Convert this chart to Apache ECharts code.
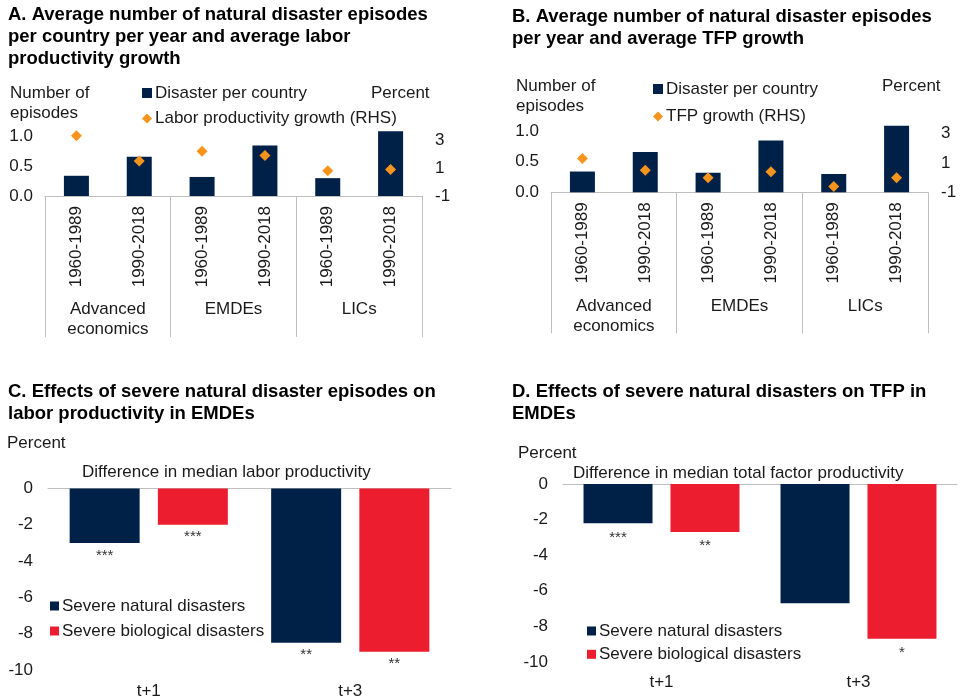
<!DOCTYPE html>
<html>
<head>
<meta charset="utf-8">
<script src="https://cdn.jsdelivr.net/npm/echarts@6/dist/echarts.min.js"></script>
<style>
  html, body { margin: 0; padding: 0; background: #fff; }
  #main { width: 960px; height: 700px; }
</style>
</head>
<body>
<div id="main"></div>
<script>
// panels A and B
var groups = ['Advanced\neconomics', 'EMDEs', 'LICs'];
var periods = ['1960-1989', '1990-2018', '1960-1989', '1990-2018', '1960-1989', '1990-2018'];
var disastersPerCountry = [0.34, 0.66, 0.32, 0.85, 0.30, 1.09];
var laborGrowth = [3.3, 1.5, 2.2, 1.9, 0.8, 0.9];
var tfpGrowth = [1.3, 0.5, 0.0, 0.4, -0.6, 0.0];

// panels C and D
var horizons = ['t+1', 't+3'];
var laborNatural = [-3.0, -8.5];
var laborBio = [-2.0, -9.0];
var laborNaturalStars = ['***', '**'];
var laborBioStars = ['***', '**'];
var tfpNatural = [-2.2, -6.7];
var tfpBio = [-2.7, -8.7];
var tfpNaturalStars = ['***', ''];
var tfpBioStars = ['**', '*'];

var NAVY = '#002147';
var RED = '#EB1D2E';
var ORANGE = '#F7941D';
var GRAY = '#bfbfbf';
var TXT = '#1a1a1a';
var FONT = "'Liberation Sans', Arial, sans-serif";
var FS = 17;

var chart = echarts.init(document.getElementById('main'));

function periodAxis(grid) {
  return {
    type: 'category', gridIndex: grid, position: 'bottom', data: periods,
    axisLine: { show: true, onZero: false, lineStyle: { color: GRAY } },
    axisTick: { show: false },
    axisLabel: { rotate: 90, interval: 0, margin: 10, fontSize: FS, color: TXT }
  };
}
function groupAxis(grid, len, margin) {
  return {
    type: 'category', gridIndex: grid, position: 'bottom', data: groups,
    axisLine: { show: false, onZero: false },
    axisTick: { show: true, length: len, lineStyle: { color: GRAY } },
    axisLabel: { interval: 0, margin: margin, fontSize: FS, color: TXT, lineHeight: 20 }
  };
}
function leftAxis(grid) {
  return {
    type: 'value', gridIndex: grid, min: 0, max: 1.2, interval: 0.5,
    axisLine: { show: false }, axisTick: { show: false }, splitLine: { show: false },
    axisLabel: { showMaxLabel: false, margin: 12, fontSize: FS, color: TXT,
      formatter: function (v) { return v.toFixed(1); } }
  };
}
function rightAxis(grid, max) {
  return {
    type: 'value', gridIndex: grid, position: 'right', min: -1, max: max, interval: 2,
    axisLine: { show: false }, axisTick: { show: false }, splitLine: { show: false },
    axisLabel: { showMaxLabel: false, margin: 13, fontSize: FS, color: TXT }
  };
}
function effectAxes(grid, margin) {
  return [{
    type: 'category', gridIndex: grid, position: 'bottom', data: horizons,
    axisLine: { show: false, onZero: false }, axisTick: { show: false },
    axisLabel: { margin: margin, fontSize: FS, color: TXT }
  }, {
    type: 'category', gridIndex: grid, position: 'top', data: horizons,
    axisLine: { show: true, onZero: false, lineStyle: { color: GRAY } },
    axisTick: { show: false }, axisLabel: { show: false }
  }];
}
function effectY(grid) {
  return {
    type: 'value', gridIndex: grid, min: -10, max: 0, interval: 2,
    axisLine: { show: false }, axisTick: { show: false }, splitLine: { show: false },
    axisLabel: { margin: 15, fontSize: FS, color: TXT }
  };
}
function starBar(name, x, y, data, stars, color, width, dist) {
  return {
    name: name, type: 'bar', xAxisIndex: x, yAxisIndex: y, data: data,
    barWidth: width, barGap: '26%', itemStyle: { color: color },
    label: { show: true, position: 'bottom', distance: dist, fontSize: 15, color: '#333',
      formatter: function (p) { return stars[p.dataIndex]; } }
  };
}
function note(text, left, top, size, bold) {
  return { text: text, left: left, top: top, padding: 0,
    textStyle: { fontSize: size, fontWeight: bold ? 'bold' : 'normal', color: bold ? '#000' : TXT,
      lineHeight: bold ? 22 : 20.5, fontFamily: FONT } };
}
function legend(names, icons, left, top, gap, size) {
  return {
    left: left, top: top, orient: 'vertical', itemGap: gap, itemWidth: size, itemHeight: size,
    padding: 0, selectedMode: false,
    textStyle: { fontSize: FS, color: TXT, lineHeight: 18, padding: [0, 0, 0, -2] },
    data: names.map(function (n, i) { return { name: n, icon: icons[i] }; })
  };
}

var option = {
  animation: false,
  textStyle: { fontFamily: FONT },
  title: [
    note('A. Average number of natural disaster episodes\nper country per year and average labor\nproductivity growth', 8, 4, 18.5, true),
    note('B. Average number of natural disaster episodes\nper year and average TFP growth', 512, 6, 18.5, true),
    note('C. Effects of severe natural disaster episodes on\nlabor productivity in EMDEs', 8, 381, 18.5, true),
    note('D. Effects of severe natural disasters on TFP in\nEMDEs', 512, 381, 18.5, true),
    note('Number of\nepisodes', 10, 83, FS),
    note('Percent', 371, 83, FS),
    note('Number of\nepisodes', 516, 76, FS),
    note('Percent', 882, 76, FS),
    note('Percent', 7, 433, FS),
    note('Difference in median labor productivity', 82, 462, FS),
    note('Percent', 518, 443, FS),
    note('Difference in median total factor productivity', 573, 463, FS)
  ],
  legend: [
    legend(['Disaster per country', 'Labor productivity growth (RHS)'], ['rect', 'diamond'], 142, 84, 7.5, 10),
    legend(['Disaster per country ', 'TFP growth (RHS)'], ['rect', 'diamond'], 653, 80, 9.5, 10),
    legend(['Severe natural disasters', 'Severe biological disasters'], ['rect', 'rect'], 50, 597, 7, 9),
    legend(['Severe natural disasters ', 'Severe biological disasters '], ['rect', 'rect'], 587, 622, 5.3, 9)
  ],
  grid: [
    { left: 45, top: 124.6, width: 377, height: 71.4 },
    { left: 551, top: 119, width: 377, height: 73.3 },
    { left: 48, top: 488.5, width: 403, height: 182 },
    { left: 563, top: 484, width: 394, height: 178 }
  ],
  xAxis: [
    periodAxis(0), groupAxis(0, 141, 103),
    periodAxis(1), groupAxis(1, 141, 104)
  ].concat(effectAxes(2, 13), effectAxes(3, 12)),
  yAxis: [
    leftAxis(0), rightAxis(0, 4.1),
    leftAxis(1), rightAxis(1, 4.0),
    effectY(2), effectY(3)
  ],
  series: [
    { name: 'Disaster per country', type: 'bar', xAxisIndex: 0, yAxisIndex: 0,
      data: disastersPerCountry, barWidth: 25, itemStyle: { color: NAVY } },
    { name: 'Labor productivity growth (RHS)', type: 'scatter', xAxisIndex: 0, yAxisIndex: 1,
      data: laborGrowth, symbol: 'diamond', symbolSize: 11, itemStyle: { color: ORANGE, opacity: 1 } },
    { name: 'Disaster per country ', type: 'bar', xAxisIndex: 2, yAxisIndex: 2,
      data: disastersPerCountry, barWidth: 25, itemStyle: { color: NAVY } },
    { name: 'TFP growth (RHS)', type: 'scatter', xAxisIndex: 2, yAxisIndex: 3,
      data: tfpGrowth, symbol: 'diamond', symbolSize: 11, itemStyle: { color: ORANGE, opacity: 1 } },
    starBar('Severe natural disasters', 4, 4, laborNatural, laborNaturalStars, NAVY, 70, 5),
    starBar('Severe biological disasters', 4, 4, laborBio, laborBioStars, RED, 70, 5),
    starBar('Severe natural disasters ', 6, 5, tfpNatural, tfpNaturalStars, NAVY, 69, 7),
    starBar('Severe biological disasters ', 6, 5, tfpBio, tfpBioStars, RED, 69, 6)
  ]
};

chart.setOption(option);
</script>
</body>
</html>
